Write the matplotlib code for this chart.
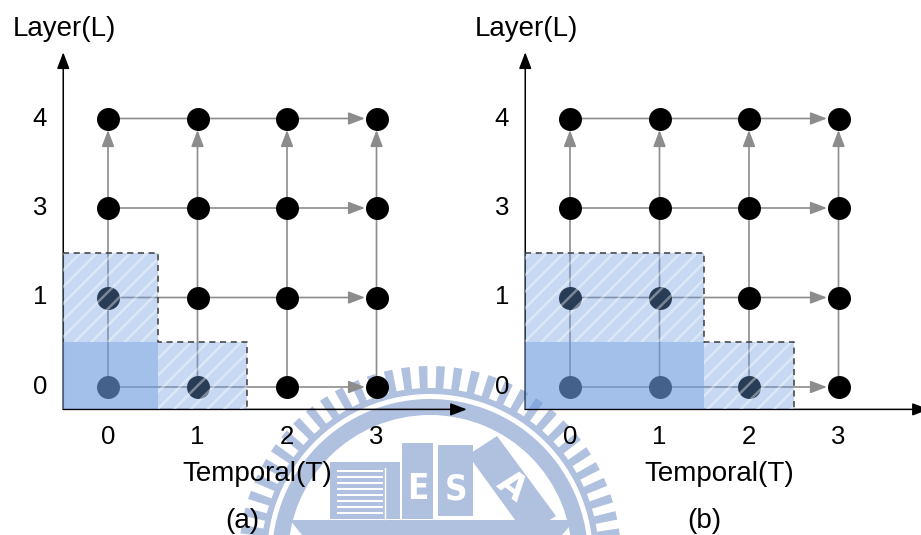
import numpy as np
import matplotlib.pyplot as plt
from matplotlib.patches import Rectangle, Polygon, Wedge, FancyArrowPatch

plt.rcParams['font.family'] = ['Liberation Sans', 'DejaVu Sans']
plt.rcParams['hatch.linewidth'] = 1.8

# computation grid: temporal steps along x, layers along y
temporal = [0, 1, 2, 3]
layer_labels = ['0', '1', '3', '4']
panel_names = ['(a)', '(b)']
# (temporal step, layer row) cells covered in each panel
solid_cells = [[(0, 0)], [(0, 0), (1, 0)]]
hatched_cells = [[(0, 1), (1, 0)], [(0, 1), (1, 1), (2, 0)]]

W, H = 921, 535
UNIT = 89.5                         # pixels per grid step
ORIGINS = [(108, 387), (570, 387)]  # pixel position of node (0, 0)
CELL_SHIFT = [0.055, 0.0]           # right edges of the cells sit a bit off in (a)
AXIS_X, AXIS_Y = -0.5, -0.25
X_TIP, Y_TIP = 4.01, 3.74

FILL = '#6c9bdf'
EDGE_GRAY = '#8c8c8c'
MARK = '#b0c0df'
ARROW = '-|>,head_length=1.0,head_width=0.38'

fig = plt.figure(figsize=(W / 100, H / 100), dpi=100)

# faint emblem behind the diagrams
bg = fig.add_axes([0, 0, 1, 1], zorder=-1)
bg.set_xlim(0, W)
bg.set_ylim(H, 0)
bg.axis('off')
cx, cy = 430, 557
bg.add_patch(Wedge((cx, cy), 169, 0, 360, width=6, color=MARK, lw=0))
bg.add_patch(Wedge((cx, cy), 158, 0, 360, width=16, color=MARK, lw=0))
for a in np.arange(2.0, 180, 5.3):
    half = 1.3
    r1, r2 = 166, 191
    pts = []
    for r, d in [(r1, -half), (r2, -half), (r2, half), (r1, half)]:
        t = np.radians(a + d)
        pts.append((cx + r * np.cos(t), cy - r * np.sin(t)))
    bg.add_patch(Polygon(pts, color=MARK, lw=0))
bg.add_patch(Rectangle((330, 462), 70, 57, color=MARK, lw=0))
for sy in np.arange(470, 514, 6):
    bg.add_patch(Rectangle((337, sy), 46, 2.2, color='white', lw=0))
bg.plot([385, 385], [468, 519], color='white', lw=1)
bg.add_patch(Rectangle((402, 443), 31, 76, color=MARK, lw=0))
bg.add_patch(Rectangle((438, 445), 35, 71, color=MARK, lw=0))
bg.add_patch(Polygon([(468, 455), (497, 436), (556, 516), (526, 535)],
                     color=MARK, lw=0))
bg.add_patch(Polygon([(290, 520), (575, 520), (562, 535), (302, 535)],
                     color=MARK, lw=0))
bg.text(418, 489, 'E', color='white', fontsize=25, ha='center', va='center',
        family='DejaVu Sans', weight='bold', fontstretch='condensed')
bg.text(456, 490, 'S', color='white', fontsize=25, ha='center', va='center',
        family='DejaVu Sans', weight='bold', fontstretch='condensed')
bg.text(512, 486, 'A', color='white', fontsize=25, ha='center', va='center',
        rotation=-38, family='DejaVu Sans', weight='bold')

gx, gy = np.meshgrid(temporal, range(len(layer_labels)))

for p, (ox, oy) in enumerate(ORIGINS):
    ax = fig.add_axes([0, 0, 1, 1])
    ax.set_xlim(-ox / UNIT, (W - ox) / UNIT)
    ax.set_ylim((oy - H) / UNIT, oy / UNIT)
    ax.axis('off')
    ax.patch.set_visible(False)

    # dependency edges, arrow into the last node of each row / column
    for r in range(len(layer_labels)):
        ax.add_patch(FancyArrowPatch(
            (temporal[0], r), (temporal[-1], r), arrowstyle=ARROW,
            mutation_scale=10, shrinkA=0, shrinkB=8.3, color=EDGE_GRAY,
            lw=1.2, zorder=1))
    for t in temporal:
        ax.add_patch(FancyArrowPatch(
            (t, 0), (t, len(layer_labels) - 1), arrowstyle=ARROW,
            mutation_scale=10, shrinkA=0, shrinkB=8.3, color=EDGE_GRAY,
            lw=1.2, zorder=1))

    ax.scatter(gx.ravel(), gy.ravel(), s=274, color='black', lw=0, zorder=2)

    # axes with arrowheads
    for tip in [(AXIS_X, Y_TIP), (X_TIP, AXIS_Y)]:
        ax.add_patch(FancyArrowPatch(
            (AXIS_X, AXIS_Y), tip, arrowstyle=ARROW, mutation_scale=10,
            shrinkA=0, shrinkB=0, color='black', lw=1.1, zorder=2.5))

    # covered cells
    sh = CELL_SHIFT[p]

    def cell(t, r):
        x0 = AXIS_X if t == temporal[0] else t - 0.5 + sh
        y0 = AXIS_Y if r == 0 else r - 0.5
        return (x0, y0), t + 0.5 + sh - x0, r + 0.5 - y0

    for t, r in solid_cells[p]:
        xy, w, h = cell(t, r)
        ax.add_patch(Rectangle(xy, w, h, facecolor=FILL, lw=0, alpha=0.63,
                               antialiased=False, zorder=3))
    for t, r in hatched_cells[p]:
        xy, w, h = cell(t, r)
        ax.add_patch(Rectangle(xy, w, h, facecolor=FILL, edgecolor='white',
                               hatch='//', lw=0, alpha=0.39,
                               antialiased=False, zorder=3))

    # dashed staircase outline of the covered region
    tops = {}
    for t, r in solid_cells[p] + hatched_cells[p]:
        tops[t] = max(tops.get(t, -1), r)
    xs, ys = [AXIS_X], [tops[min(tops)] + 0.5]
    for t in sorted(tops):
        xs += [t + 0.5 + sh, t + 0.5 + sh]
        nxt = tops.get(t + 1)
        ys += [tops[t] + 0.5, nxt + 0.5 if nxt is not None else AXIS_Y]
    ax.plot(xs, ys, color='#3c3c3c', lw=1.1, ls=(0, (4, 3)), zorder=4)

    # labels
    for t in temporal:
        ax.text(t, -0.56, str(t), fontsize=18.5, ha='center', va='center')
    for r, lab in enumerate(layer_labels):
        ax.text(-0.76, r, lab, fontsize=18.5, ha='center', va='center')
    ax.text(AXIS_X + 0.01, 4.0, 'Layer(L)', fontsize=20, ha='center', va='center')
    ax.text(1.67, -0.97, 'Temporal(T)', fontsize=20, ha='center', va='center')
    ax.text(1.5, -1.5, panel_names[p], fontsize=20, ha='center', va='center')

fig.savefig('out.png', dpi=100)
